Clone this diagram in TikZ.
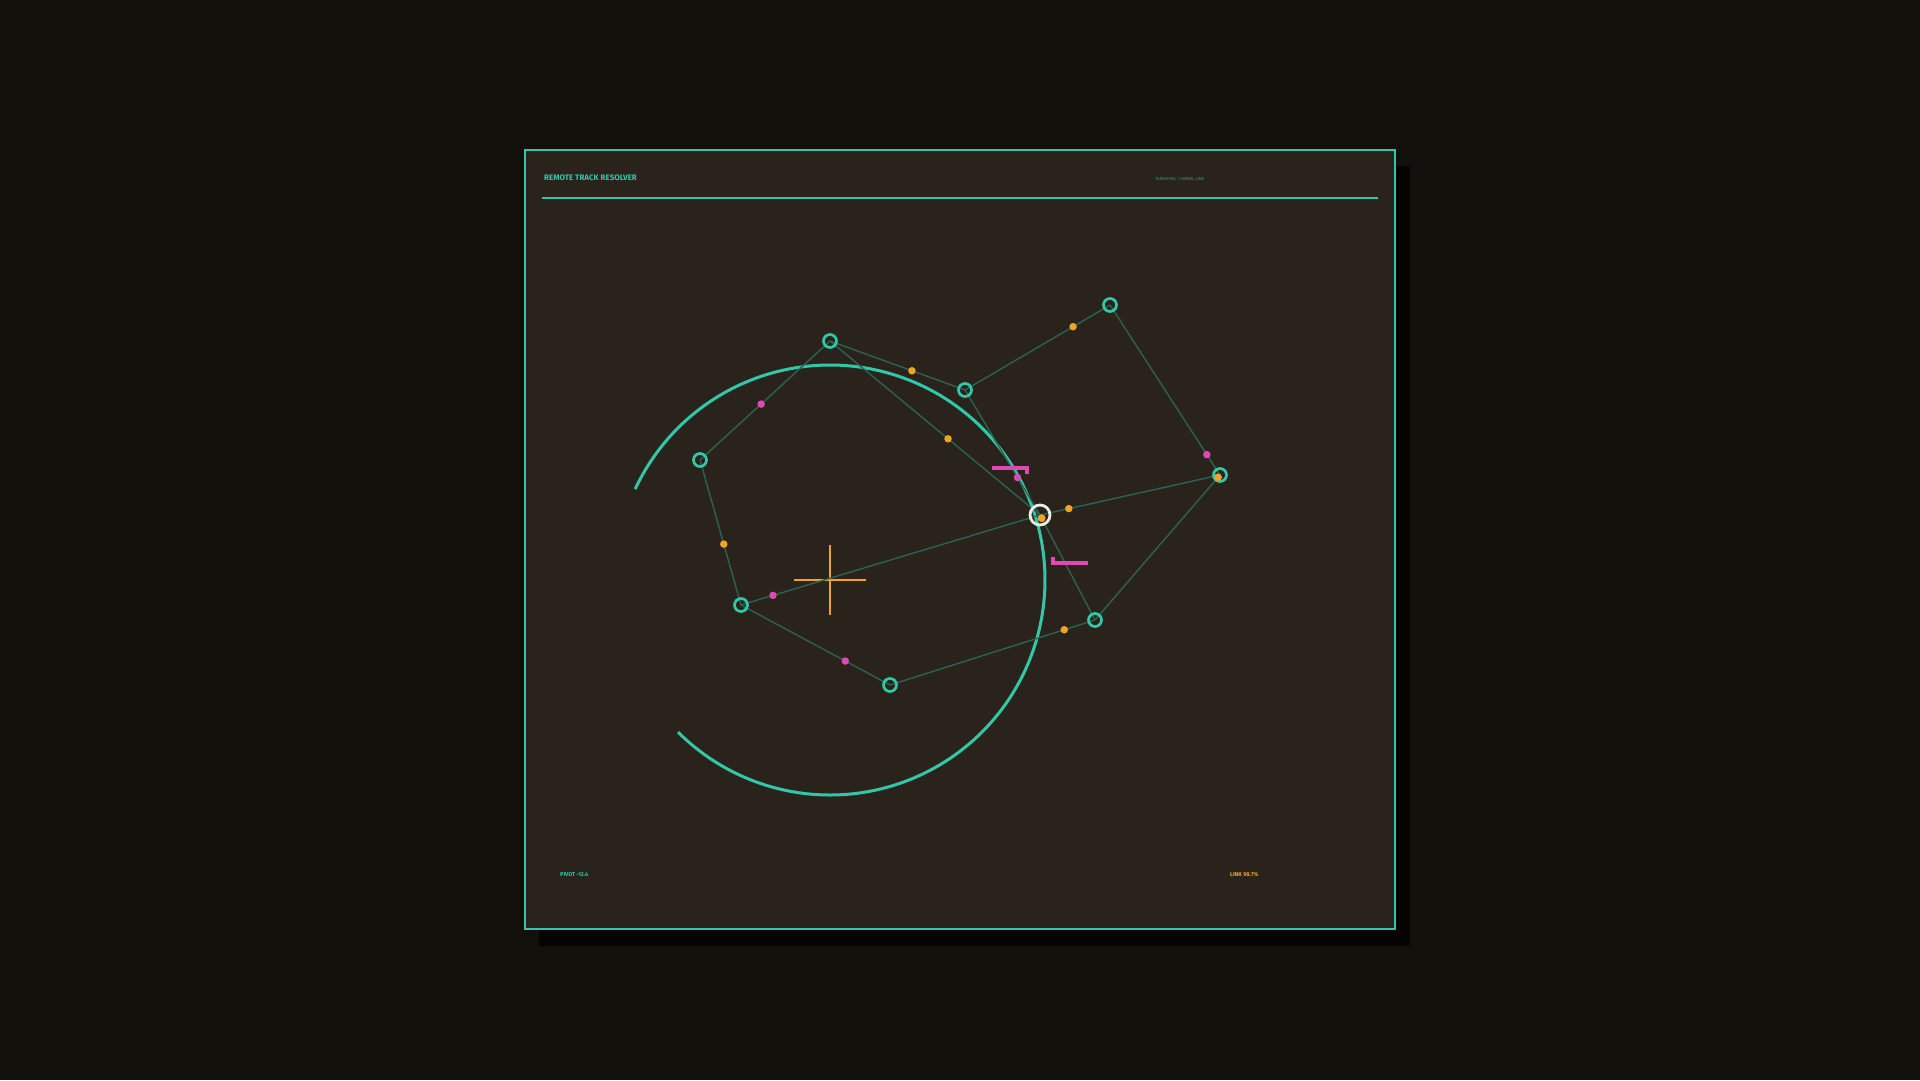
\documentclass[tikz,border=0pt]{standalone}
\usepackage{fontspec}
\setmainfont{Fira Sans}
\definecolor{bgouter}{HTML}{12100B}
\definecolor{panel}{HTML}{29231B}
\definecolor{shadowc}{HTML}{050403}
\definecolor{teal}{HTML}{33C7AA}
\definecolor{edgec}{HTML}{2C6253}
\definecolor{orangec}{HTML}{F2A324}
\definecolor{magentac}{HTML}{E048B8}
\definecolor{whitec}{HTML}{EFECE2}
\tikzset{
  tnode/.style={circle, draw=teal, line width=2.7pt, minimum size=13pt, inner sep=0pt},
  wnode/.style={circle, draw=whitec, line width=2.8pt, minimum size=20pt, inner sep=0pt},
  edge/.style={draw=edgec, line width=1.4pt},
  odot/.style={circle, fill=orangec, minimum size=7.5pt, inner sep=0pt},
  mdot/.style={circle, fill=magentac, minimum size=7.5pt, inner sep=0pt},
  bracketline/.style={draw=magentac, line width=3.2pt},
  ring/.style={draw=teal, line width=3pt},
  crossline/.style={draw=orangec, line width=2.8pt},
}
\begin{document}
\begin{tikzpicture}[x=1pt,y=-1pt]
\useasboundingbox (0,0) rectangle (1920,1080);
\fill[bgouter] (0,0) rectangle (1920,1080);
\fill[shadowc] (539,166) rectangle (1410,946);
\filldraw[fill=panel, draw=teal, line width=2.4pt] (525,150) rectangle (1395,929);
\coordinate (hl) at (542,198);
\coordinate (hr) at (1378,198);
\draw[teal, line width=1.7pt] (hl) -- (hr);
\node[anchor=west, text=teal, font=\bfseries\fontsize{8}{9}\selectfont, inner sep=0pt] (title) at (544,178) {REMOTE TRACK RESOLVER};
\node[anchor=west, text=teal!75!panel, font=\fontsize{4.2}{5}\selectfont, inner sep=0pt] (sub) at (1155,179) {TARGETING / GIMBAL LINK};
\node[anchor=west, text=teal, font=\bfseries\fontsize{5.6}{6.5}\selectfont, inner sep=0pt] (pivot) at (560,875) {PIVOT -12.4};
\node[anchor=west, text=orangec, font=\bfseries\fontsize{5.6}{6.5}\selectfont, inner sep=0pt] (link) at (1230,875) {LINK 98.7\%};
% ring
\draw[ring] plot[domain=-155:135, samples=240, smooth] ({830+215*cos(\x)},{580+215*sin(\x)});
% cross
\coordinate (cc) at (830,580);
\draw[crossline] ([xshift=-36pt]cc) -- ([xshift=36pt]cc);
\draw[crossline] ([yshift=-35pt]cc) -- ([yshift=35pt]cc);
% node coordinates
\coordinate (A) at (830,341);
\coordinate (B) at (700,460);
\coordinate (C) at (741,605);
\coordinate (D) at (965,390);
\coordinate (E) at (1110,305);
\coordinate (F) at (1220,475);
\coordinate (G) at (1040,515);
\coordinate (H) at (1095,620);
\coordinate (I) at (890,685);
% edges
\draw[edge] (A) -- (B) node[mdot, pos=0.53] (mAB) {};
\draw[edge] (A) -- (D) node[odot, pos=0.607] (mAD) {};
\draw[edge] (A) -- (G) node[odot, pos=0.562] (mAG) {};
\draw[edge] (B) -- (C) node[odot, pos=0.58] (mBC) {};
\draw[edge] (C) -- (G) node[mdot, pos=0.107] (mCG) {};
\draw[edge] (C) -- (I) node[mdot, pos=0.70] (mCI) {};
\draw[edge] (D) -- (E) node[odot, pos=0.745] (mDE) {};
\draw[edge] (E) -- (F) node[mdot, pos=0.88] (mEF) {};
\draw[edge] (F) -- (G) node[odot, pos=0.84] (mFG) {};
\draw[edge] (H) -- (I) node[odot, pos=0.15] (mHI) {};
\draw[edge] (D) -- (G) node[mdot, pos=0.70] (mDG) {};
\draw[edge] (H) -- (F) node[odot, pos=0.984] (mHF) {};
\draw[edge] (G) -- (H) node[odot, pos=0.03] (mGH) {};
% nodes
\node[tnode] (nA) at (A) {};
\node[tnode] (nB) at (B) {};
\node[tnode] (nC) at (C) {};
\node[tnode] (nD) at (D) {};
\node[tnode] (nE) at (E) {};
\node[tnode] (nF) at (F) {};
\node[tnode] (nH) at (H) {};
\node[tnode] (nI) at (I) {};
\node[wnode] (nG) at (G) {};
% re-draw dots that sit inside nodes
\node[odot] at (mHF) {};
\node[odot] at (mGH) {};
% target brackets
\coordinate (b1a) at (992,468);
\coordinate (b1b) at (1027,468);
\coordinate (b1c) at (1027,474);
\draw[bracketline] (b1a) -- (b1b) -- (b1c);
\coordinate (b2a) at (1053,557);
\coordinate (b2b) at (1053,563);
\coordinate (b2c) at (1088,563);
\draw[bracketline] (b2a) -- (b2b) -- (b2c);
\end{tikzpicture}
\end{document}
